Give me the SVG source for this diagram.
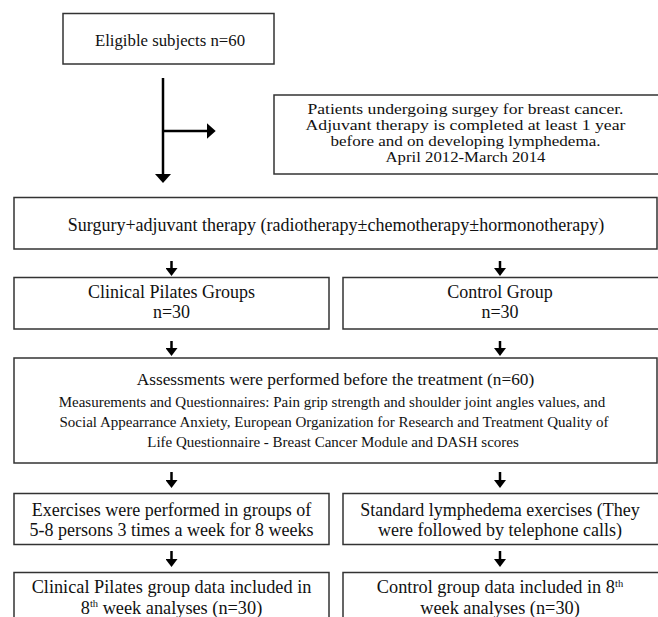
<svg xmlns="http://www.w3.org/2000/svg" width="658" height="617" viewBox="0 0 658 617">
<defs>
<style>
.box{fill:#fff;stroke:#333;stroke-width:1.5}
.t{font-family:"Liberation Serif","Times New Roman",serif;fill:#111;text-anchor:middle}
.ln{stroke:#000;stroke-width:2.5;fill:none}
</style>
<marker id="ahs" viewBox="0 0 10 10" refX="5" refY="5" markerWidth="8" markerHeight="12" markerUnits="userSpaceOnUse" orient="auto" preserveAspectRatio="none"><path d="M0,0 L10,5 L0,10 z" fill="#000"/></marker>
<marker id="ahl" viewBox="0 0 10 10" refX="5" refY="5" markerWidth="9" markerHeight="16" markerUnits="userSpaceOnUse" orient="auto" preserveAspectRatio="none"><path d="M0,0 L10,5 L0,10 z" fill="#000"/></marker>
</defs>
<rect width="658" height="617" fill="#fff"/>
<g id="connectors">
<line class="ln" x1="163" y1="78" x2="163" y2="178.5" marker-end="url(#ahl)"/>
<line class="ln" x1="163" y1="131" x2="211.2" y2="131" marker-end="url(#ahl)"/>
<line class="ln" x1="171.5" y1="261" x2="171.5" y2="272" marker-end="url(#ahs)"/>
<line class="ln" x1="500" y1="261" x2="500" y2="272" marker-end="url(#ahs)"/>
<line class="ln" x1="171.5" y1="341" x2="171.5" y2="352" marker-end="url(#ahs)"/>
<line class="ln" x1="500" y1="341" x2="500" y2="352" marker-end="url(#ahs)"/>
<line class="ln" x1="171.5" y1="472" x2="171.5" y2="484" marker-end="url(#ahs)"/>
<line class="ln" x1="500" y1="472" x2="500" y2="484" marker-end="url(#ahs)"/>
<line class="ln" x1="171.5" y1="551" x2="171.5" y2="563" marker-end="url(#ahs)"/>
<line class="ln" x1="500" y1="551" x2="500" y2="563" marker-end="url(#ahs)"/>
</g>
<g id="eligible">
<rect class="box" x="63" y="13.5" width="211" height="50.5"/>
<text class="t" x="170" y="45.5" font-size="16.8">Eligible subjects n=60</text>
</g>
<g id="patients">
<rect class="box" x="274" y="95" width="390" height="79"/>
<text class="t" font-size="14.6" lengthAdjust="spacingAndGlyphs"><tspan x="465.5" y="113.5" textLength="316" lengthAdjust="spacingAndGlyphs">Patients undergoing surgey for breast cancer.</tspan><tspan x="465.5" y="129.5" textLength="320" lengthAdjust="spacingAndGlyphs">Adjuvant therapy is completed at least 1 year</tspan><tspan x="465.5" y="145.5" textLength="270" lengthAdjust="spacingAndGlyphs">before and on developing lymphedema.</tspan><tspan x="465.5" y="161.5" textLength="160" lengthAdjust="spacingAndGlyphs">April 2012-March 2014</tspan></text>
</g>
<g id="surgery">
<rect class="box" x="14" y="197.5" width="643" height="51.5"/>
<text class="t" x="336" y="230.5" font-size="18">Surgury+adjuvant therapy (radiotherapy±chemotherapy±hormonotherapy)</text>
</g>
<g id="pilates">
<rect class="box" x="14" y="277.5" width="315" height="51.5"/>
<text class="t" font-size="18"><tspan x="171.5" y="297.5">Clinical Pilates Groups</tspan><tspan x="171.5" y="317.5">n=30</tspan></text>
</g>
<g id="control">
<rect class="box" x="343" y="277.5" width="321" height="51.5"/>
<text class="t" font-size="18"><tspan x="500" y="297.5">Control Group</tspan><tspan x="500" y="317.5">n=30</tspan></text>
</g>
<g id="assessments">
<rect class="box" x="14" y="358" width="643" height="105"/>
<text class="t" x="335.5" y="385" font-size="17.3">Assessments were performed before the treatment (n=60)</text>
<text class="t" font-size="15"><tspan x="332" y="407">Measurements and Questionnaires: Pain grip strength and shoulder joint angles values, and</tspan><tspan x="334" y="427">Social Appearrance Anxiety, European Organization for Research and Treatment Quality of</tspan><tspan x="333" y="447">Life Questionnaire - Breast Cancer Module and DASH scores</tspan></text>
</g>
<g id="exercises">
<rect class="box" x="14" y="493.5" width="315" height="51"/>
<text class="t" font-size="18"><tspan x="171.5" y="515.5">Exercises were performed in groups of</tspan><tspan x="171.5" y="536">5-8 persons 3 times a week for 8 weeks</tspan></text>
</g>
<g id="standard">
<rect class="box" x="343" y="493.5" width="321" height="51"/>
<text class="t" font-size="18"><tspan x="500" y="515.5">Standard lymphedema exercises (They</tspan><tspan x="500" y="536">were followed by telephone calls)</tspan></text>
</g>
<g id="pilates-data">
<rect class="box" x="14" y="572.5" width="315" height="60"/>
<text class="t" font-size="18.3"><tspan x="171.5" y="593">Clinical Pilates group data included in</tspan><tspan x="171.5" y="613.5">8<tspan font-size="10.5" dy="-6.5">th</tspan><tspan dy="6.5"> week analyses (n=30)</tspan></tspan></text>
</g>
<g id="control-data">
<rect class="box" x="343" y="572.5" width="321" height="60"/>
<text class="t" font-size="18.3"><tspan x="500" y="593">Control group data included in 8<tspan font-size="10.5" dy="-6.5">th</tspan></tspan><tspan x="500" y="613.5">week analyses (n=30)</tspan></text>
</g>
</svg>
